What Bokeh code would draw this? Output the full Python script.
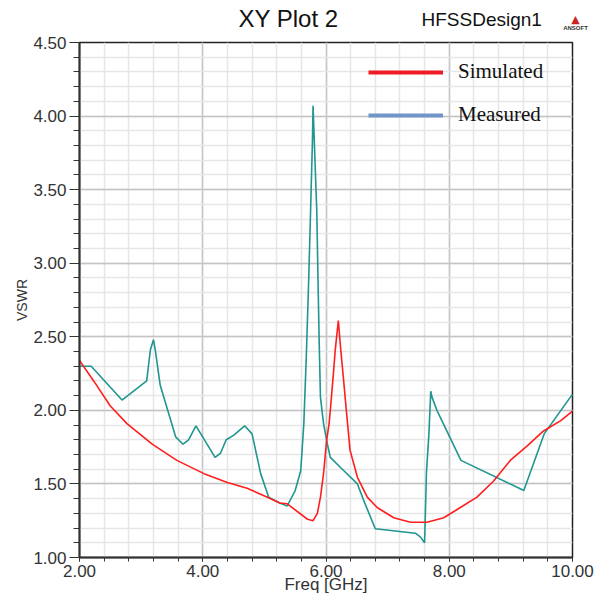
import numpy as np
from bokeh.plotting import figure
from bokeh.layouts import column
from bokeh.models import (FixedTicker, PrintfTickFormatter, Label, Legend, LegendItem, Range1d)
from bokeh.embed import file_html
from bokeh.resources import INLINE

# ---- data ----
meas_f = [2.00, 2.19, 2.69, 3.09, 3.15, 3.20, 3.23, 3.31, 3.56, 3.68, 3.77, 3.89, 4.20, 4.29, 4.38,
          4.50, 4.68, 4.80, 4.94, 5.07, 5.25, 5.37, 5.50, 5.59, 5.64, 5.68, 5.72, 5.75, 5.78, 5.79,
          5.81, 5.85, 5.87, 5.89, 5.91, 5.96, 6.02, 6.07, 6.24, 6.51, 6.61, 6.80, 7.45, 7.53, 7.60,
          7.63, 7.67, 7.70, 7.72, 7.80, 8.19, 9.21, 9.54, 10.00]
meas_v = [2.30, 2.30, 2.07, 2.20, 2.41, 2.48, 2.41, 2.17, 1.82, 1.77, 1.80, 1.895, 1.68, 1.71, 1.80,
          1.83, 1.895, 1.84, 1.57, 1.41, 1.37, 1.35, 1.455, 1.59, 1.91, 2.36, 2.90, 3.36, 3.83, 4.07,
          3.83, 3.36, 2.90, 2.45, 2.09, 1.91, 1.775, 1.68, 1.61, 1.50, 1.39, 1.195, 1.165, 1.14, 1.10,
          1.58, 1.84, 2.13, 2.09, 2.00, 1.66, 1.455, 1.84, 2.11]

sim_f = [2.00, 2.23, 2.50, 2.77, 3.18, 3.58, 4.02, 4.40, 4.72, 5.05, 5.25, 5.37, 5.70, 5.79, 5.86,
         5.91, 5.96, 6.01, 6.05, 6.07, 6.12, 6.15, 6.20, 6.24, 6.28, 6.33, 6.39, 6.51, 6.67, 6.83,
         7.10, 7.37, 7.64, 7.91, 8.18, 8.45, 8.72, 8.99, 9.27, 9.53, 9.81, 10.00]
sim_v = [2.34, 2.20, 2.03, 1.91, 1.77, 1.66, 1.57, 1.51, 1.47, 1.41, 1.37, 1.365, 1.26, 1.25, 1.30,
         1.41, 1.57, 1.795, 1.91, 2.00, 2.25, 2.41, 2.61, 2.41, 2.23, 2.00, 1.73, 1.545, 1.41, 1.34,
         1.27, 1.24, 1.24, 1.27, 1.34, 1.41, 1.52, 1.66, 1.76, 1.86, 1.93, 1.995]

series_names = ["Simulated", "Measured"]
legend_stub = [float("nan")]

x_major = [2.0, 4.0, 6.0, 8.0, 10.0]
x_minor = [round(v, 2) for v in np.arange(2.0, 10.01, 0.4)]
y_major = [1.0, 1.5, 2.0, 2.5, 3.0, 3.5, 4.0, 4.5]
y_minor = [round(v, 2) for v in np.arange(1.0, 4.51, 0.1)]

FONT = "Liberation Sans"
SERIF = "Liberation Serif"

# ---- header strip (title texts) ----
hdr = figure(width=599, height=32, output_backend="svg", toolbar_location=None,
             x_axis_type=None, y_axis_type=None, x_range=Range1d(0, 1), y_range=Range1d(0, 1),
             min_border=0, min_border_left=0, min_border_right=0, min_border_top=0,
             min_border_bottom=0)
hdr.frame_align = False
hdr.outline_line_color = None
hdr.grid.visible = False
hdr.add_layout(Label(x=238, y=14, x_units="screen", y_units="screen", text="XY Plot 2",
                     text_font=FONT, text_font_size="24px", text_color="#111111",
                     text_baseline="middle", text_align="left"))
hdr.add_layout(Label(x=421, y=13, x_units="screen", y_units="screen", text="HFSSDesign1",
                     text_font=FONT, text_font_size="19px", text_color="#111111",
                     text_baseline="middle", text_align="left"))
hdr.add_layout(Label(x=575, y=13, x_units="screen", y_units="screen", text="▲",
                     text_font="DejaVu Sans", text_font_size="11px", text_color="#cc2222",
                     text_baseline="middle", text_align="center"))
hdr.add_layout(Label(x=575, y=5, x_units="screen", y_units="screen", text="ANSOFT",
                     text_font=FONT, text_font_size="6px", text_font_style="bold",
                     text_color="#333333", text_baseline="middle", text_align="center"))

# ---- main plot ----
p = figure(width=599, height=565, output_backend="svg", toolbar_location=None,
           x_range=Range1d(2, 10), y_range=Range1d(1, 4.5),
           min_border_left=79, min_border_right=27, min_border_top=10, min_border_bottom=40)
p.frame_align = False
p.background_fill_color = "white"
p.border_fill_color = "white"
p.outline_line_color = "#222222"
p.outline_line_width = 1.5

for ax in (p.xaxis[0], p.yaxis[0]):
    ax.axis_line_color = "#333333"
    ax.axis_line_width = 2
    ax.major_tick_line_color = "#333333"
    ax.minor_tick_line_color = "#333333"
    ax.major_tick_in = 0
    ax.minor_tick_in = 0
    ax.major_label_text_font = FONT
    ax.major_label_text_font_size = "17px"
    ax.major_label_text_color = "#333333"
    ax.formatter = PrintfTickFormatter(format="%.2f")
    ax.axis_label_text_font = FONT
    ax.axis_label_text_font_style = "normal"
    ax.axis_label_text_color = "#333333"

p.xaxis[0].ticker = FixedTicker(ticks=x_major, minor_ticks=x_minor)
p.yaxis[0].ticker = FixedTicker(ticks=y_major, minor_ticks=y_minor)
p.xaxis[0].major_tick_out = 4
p.xaxis[0].minor_tick_out = 4
p.xaxis[0].major_label_standoff = 3
p.xaxis[0].axis_label = "Freq [GHz]"
p.xaxis[0].axis_label_text_font_size = "17px"
p.xaxis[0].axis_label_standoff = -5
p.yaxis[0].major_tick_out = 10
p.yaxis[0].minor_tick_out = 6
p.yaxis[0].major_label_standoff = 3
p.yaxis[0].axis_label = "VSWR"
p.yaxis[0].axis_label_text_font_size = "14px"
p.yaxis[0].axis_label_standoff = 0

for g in (p.xgrid[0], p.ygrid[0]):
    g.grid_line_color = "#c4c4c4"
    g.grid_line_width = 1.5
    g.minor_grid_line_color = "#e6e6e6"
    g.minor_grid_line_width = 1.5
p.xgrid[0].ticker = p.xaxis[0].ticker
p.ygrid[0].ticker = p.yaxis[0].ticker

# curves
p.line(meas_f, meas_v, line_color="#1f968f", line_width=1.6)
p.line(sim_f, sim_v, line_color="#ff1e1e", line_width=1.6)

# legend swatches (colours as shown in the reference legend)
leg_sim = p.line(legend_stub, legend_stub, line_color="#ee1c25", line_width=4)
leg_meas = p.line(legend_stub, legend_stub, line_color="#7096c8", line_width=4)
legend = Legend(items=[LegendItem(label=series_names[0], renderers=[leg_sim]),
                       LegendItem(label=series_names[1], renderers=[leg_meas])],
                location=(289, 430), orientation="vertical",
                glyph_width=75, glyph_height=22, label_standoff=15, spacing=18,
                padding=0, margin=0, label_text_font=SERIF, label_text_font_size="21px",
                label_text_color="#111111",
                background_fill_alpha=0, border_line_alpha=0)
p.add_layout(legend, "center")

layout = column(hdr, p, spacing=0)
open("out.html", "w").write(file_html(layout, INLINE))
